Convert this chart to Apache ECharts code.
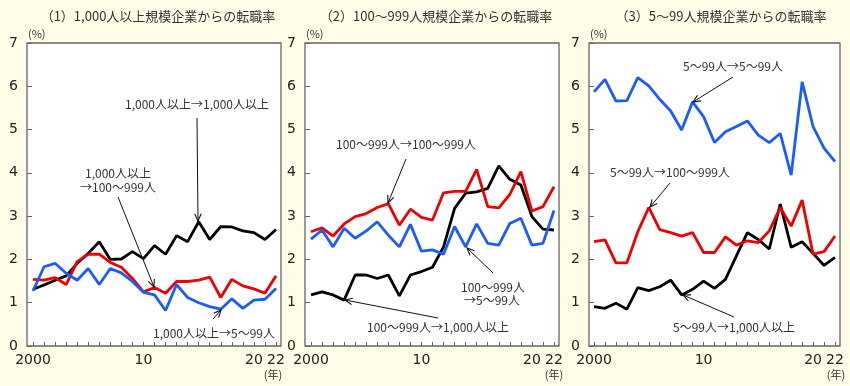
<!DOCTYPE html>
<html><head><meta charset="utf-8">
<script src="https://cdn.jsdelivr.net/npm/echarts@6/dist/echarts.min.js"></script>
<style>html,body{margin:0;padding:0;background:#fffde8;}#c{width:850px;height:386px;}</style>
</head><body><div id="c"></div>
<script>
// years 2000..2022 (index 0..22)
const yearCount = 23;
const xTickLabels = {0:'2000', 10:'10', 20:'20', 22:'22'};
const yMax = 7;

// Panel 1: 1,000人以上規模企業から
const p1_to1000 = [1.31,1.41,1.52,1.62,1.91,2.14,2.41,2.00,2.01,2.18,2.02,2.32,2.12,2.55,2.41,2.87,2.46,2.76,2.75,2.66,2.62,2.46,2.69];
const p1_to100  = [1.54,1.52,1.58,1.42,1.95,2.12,2.12,1.93,1.82,1.56,1.25,1.35,1.22,1.49,1.49,1.52,1.59,1.12,1.54,1.39,1.32,1.22,1.62];
const p1_to5    = [1.27,1.83,1.91,1.68,1.52,1.79,1.42,1.79,1.69,1.49,1.24,1.18,0.82,1.42,1.12,1.00,0.91,0.85,1.09,0.87,1.06,1.08,1.33];
// Panel 2: 100～999人規模企業から
const p2_to1000 = [1.18,1.25,1.18,1.06,1.64,1.64,1.56,1.64,1.16,1.64,1.72,1.82,2.29,3.18,3.53,3.56,3.64,4.16,3.85,3.72,2.99,2.70,2.68];
const p2_to100  = [2.64,2.73,2.54,2.82,2.99,3.06,3.20,3.29,2.79,3.16,2.97,2.91,3.54,3.57,3.57,4.08,3.22,3.19,3.50,4.03,3.12,3.22,3.68];
const p2_to5    = [2.47,2.68,2.29,2.72,2.49,2.66,2.87,2.56,2.29,2.81,2.19,2.22,2.12,2.76,2.29,2.82,2.37,2.33,2.83,2.95,2.33,2.37,3.13];
// Panel 3: 5～99人規模企業から
const p3_to1000 = [0.91,0.87,0.99,0.85,1.35,1.28,1.37,1.52,1.18,1.31,1.50,1.33,1.54,2.08,2.62,2.46,2.24,3.28,2.28,2.41,2.14,1.86,2.05];
const p3_to100  = [2.41,2.45,1.92,1.92,2.64,3.20,2.69,2.62,2.54,2.62,2.16,2.16,2.52,2.33,2.43,2.39,2.66,3.20,2.77,3.37,2.12,2.18,2.54];
const p3_to5    = [5.87,6.16,5.66,5.67,6.20,6.01,5.70,5.43,4.99,5.64,5.30,4.70,4.95,5.07,5.20,4.87,4.70,4.91,3.95,6.10,5.07,4.57,4.26];

const titles = ['（1）1,000人以上規模企業からの転職率','（2）100～999人規模企業からの転職率','（3）5～99人規模企業からの転職率'];

const BLACK = '#000000', RED = '#ee0000', BLUE = '#1a5cff';
const panels = [
  {box:[27,281], data:[33,276], series:[[p1_to1000,BLACK],[p1_to100,RED],[p1_to5,BLUE]], titleX:158, nenX:273},
  {box:[305,559], data:[311,554], series:[[p2_to1000,BLACK],[p2_to100,RED],[p2_to5,BLUE]], titleX:436, nenX:554},
  {box:[589,840], data:[594,835], series:[[p3_to1000,BLACK],[p3_to100,RED],[p3_to5,BLUE]], titleX:721, nenX:836}
];
const TOP = 43, BOTTOM = 346, W = 850, H = 386;
const NUMFONT = 'DejaVu Sans';
const JPFONT = '"Noto Sans CJK JP", "Noto Sans", sans-serif';

const grid = [], xAxis = [], yAxis = [], series = [];
panels.forEach((p, k) => {
  const gb = grid.length;
  grid.push({left:p.box[0], right:W-p.box[1], top:TOP, bottom:H-BOTTOM, show:true, backgroundColor:'#ffffff', borderColor:'#666', borderWidth:1.3});
  grid.push({left:p.data[0], right:W-p.data[1], top:TOP, bottom:H-BOTTOM, show:false});
  xAxis.push({gridIndex:gb, type:'value', min:0, max:1, show:false});
  xAxis.push({gridIndex:gb+1, type:'value', min:0, max:yearCount-1, interval:1,
    axisLine:{show:false}, splitLine:{show:false},
    axisTick:{show:true, inside:true, length:4, lineStyle:{color:'#666', width:1}},
    axisLabel:{show:true, margin:7, fontSize:14, color:'#222', fontFamily:NUMFONT,
      formatter: v => (xTickLabels[v] !== undefined ? xTickLabels[v] : '')}
  });
  yAxis.push({gridIndex:gb, type:'value', min:0, max:yMax, interval:1,
    axisLine:{show:false}, splitLine:{show:false},
    axisTick:{show:true, inside:true, length:5, lineStyle:{color:'#666', width:1}},
    axisLabel:{margin:9, fontSize:14, color:'#222', fontFamily:NUMFONT}
  });
  yAxis.push({gridIndex:gb+1, type:'value', min:0, max:yMax, show:false});
  p.series.forEach(([vals, col]) => {
    series.push({type:'line', xAxisIndex:gb+1, yAxisIndex:gb+1, data: vals.map((v,i)=>[i,v]),
      symbol:'none', lineStyle:{color:col, width:2.8}, itemStyle:{color:col}, animation:false, z:3});
  });
});

function txt(x, y, s, size, align) {
  return {type:'text', x:x, y:y, z:20, style:{text:s, fill:'#333', font: size+'px '+JPFONT, textAlign:align||'center', textVerticalAlign:'middle'}};
}
function arrow(x1, y1, x2, y2) {
  const a = Math.atan2(y2-y1, x2-x1), L = 8, h = 0.42;
  const p1 = [x2 - L*Math.cos(a-h), y2 - L*Math.sin(a-h)];
  const p2 = [x2 - L*Math.cos(a+h), y2 - L*Math.sin(a+h)];
  return [
    {type:'line', z:20, shape:{x1:x1,y1:y1,x2:x2,y2:y2}, style:{stroke:'#111', lineWidth:1}},
    {type:'polyline', z:20, shape:{points:[p1,[x2,y2],p2]}, style:{stroke:'#111', lineWidth:1.1, fill:null}}
  ];
}

const graphic = [];
panels.forEach((p, k) => {
  graphic.push(txt(p.titleX, 16, titles[k], 13));
  graphic.push(txt(p.box[0]+1, 34, '(%)', 11, 'left'));
  graphic.push(txt(p.nenX, 375, '(年)', 11));
});
// Panel 1 annotations
graphic.push(txt(197, 104, '1,000人以上→1,000人以上', 12));
graphic.push(...arrow(197, 118, 198, 221));
graphic.push(txt(118, 173, '1,000人以上', 12));
graphic.push(txt(118, 187, '→100～999人', 12));
graphic.push(...arrow(118, 197, 154, 287));
graphic.push(txt(214, 333, '1,000人以上→5～99人', 12));
graphic.push(...arrow(213, 319, 221, 310));
// Panel 2 annotations
graphic.push(txt(406, 144, '100～999人→100～999人', 12));
graphic.push(...arrow(406, 159, 388, 203));
graphic.push(txt(493, 287, '100～999人', 12));
graphic.push(txt(492, 300, '→5～99人', 12));
graphic.push(...arrow(493, 273, 467, 248));
graphic.push(txt(438, 327, '100～999人→1,000人以上', 12));
graphic.push(...arrow(438, 318, 345, 300));
// Panel 3 annotations
graphic.push(txt(733, 66, '5～99人→5～99人', 12));
graphic.push(...arrow(733, 77, 693, 102));
graphic.push(txt(670, 172, '5～99人→100～999人', 12));
graphic.push(...arrow(670, 183, 650, 207));
graphic.push(txt(734, 327, '5～99人→1,000人以上', 12));
graphic.push(...arrow(734, 317, 683, 295));

const chart = echarts.init(document.getElementById('c'), null, {renderer:'canvas'});
chart.setOption({backgroundColor:'#fffde8', animation:false, grid, xAxis, yAxis, series, graphic});
</script></body></html>
